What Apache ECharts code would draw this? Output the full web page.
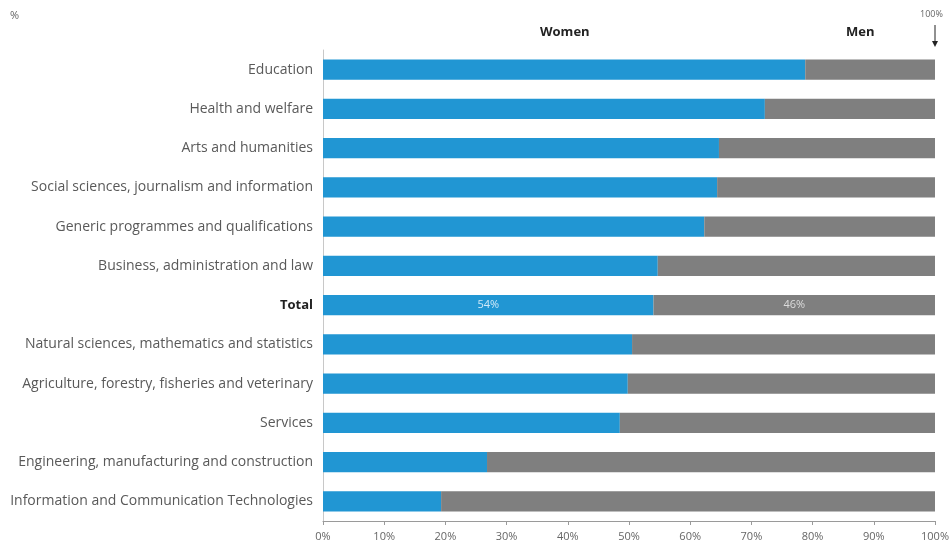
<!DOCTYPE html>
<html>
<head>
<meta charset="utf-8">
<script src="https://cdn.jsdelivr.net/npm/echarts@6/dist/echarts.min.js"></script>
<style>
  html, body { margin: 0; padding: 0; background: #fff; }
  #chart { width: 952px; height: 549px; }
</style>
</head>
<body>
<div id="chart"></div>
<script>
// fields of education, top to bottom
const fields = [
  'Education',
  'Health and welfare',
  'Arts and humanities',
  'Social sciences, journalism and information',
  'Generic programmes and qualifications',
  'Business, administration and law',
  'Total',
  'Natural sciences, mathematics and statistics',
  'Agriculture, forestry, fisheries and veterinary',
  'Services',
  'Engineering, manufacturing and construction',
  'Information and Communication Technologies'
]
// share of women (%)
const women = [78.8, 72.2, 64.7, 64.4, 62.3, 54.7, 54, 50.5, 49.8, 48.5, 26.8, 19.3]
// share of men (%)
const men = women.map(v => +(100 - v).toFixed(1))
const xTicks = [0, 10, 20, 30, 40, 50, 60, 70, 80, 90, 100]

const font = '"Open Sans", sans-serif'
const chart = echarts.init(document.getElementById('chart'))

// only the Total bar carries a value label
const withLabel = (arr) => arr.map((v, i) => fields[i] === 'Total'
  ? { value: v, label: { show: true } }
  : v)

const option = {
  animation: false,
  textStyle: { fontFamily: font },
  grid: { left: 323, right: 17, top: 50, bottom: 28 },
  xAxis: {
    type: 'value',
    min: 0,
    max: 100,
    interval: 10,
    splitLine: { show: false },
    axisLine: { show: true, lineStyle: { color: '#9a9a9a' } },
    axisTick: { show: true, length: 4, lineStyle: { color: '#9a9a9a' } },
    axisLabel: {
      color: '#666',
      fontSize: 11,
      margin: 10,
      formatter: (v) => xTicks.includes(v) ? v + '%' : ''
    }
  },
  yAxis: {
    type: 'category',
    data: fields,
    inverse: true,
    axisLine: { show: true, lineStyle: { color: '#c8c8c8' } },
    axisTick: { show: false },
    axisLabel: {
      color: '#595959',
      fontSize: 14,
      margin: 10,
      formatter: (v) => v === 'Total' ? '{b|' + v + '}' : v,
      rich: { b: { fontWeight: 'bold', color: '#222', fontSize: 13, fontFamily: font } }
    }
  },
  series: [
    {
      name: 'Women',
      type: 'bar',
      stack: 'all',
      barCategoryGap: '49%',
      itemStyle: { color: '#2196d3' },
      label: { show: false, position: 'inside', color: '#cfe9f8', fontSize: 11, formatter: '{c}%' },
      data: withLabel(women)
    },
    {
      name: 'Men',
      type: 'bar',
      stack: 'all',
      itemStyle: { color: '#7f7f7f' },
      label: { show: false, position: 'inside', color: '#dcdcdc', fontSize: 11, formatter: '{c}%' },
      data: withLabel(men)
    }
  ],
  graphic: [
    { type: 'text', left: 10, top: 10, style: { text: '%', fill: '#666', fontSize: 11, fontFamily: font } },
    { type: 'text', left: 540, top: 26, style: { text: 'Women', fill: '#222', fontSize: 13, fontWeight: 'bold', fontFamily: font } },
    { type: 'text', left: 846, top: 26, style: { text: 'Men', fill: '#222', fontSize: 13, fontWeight: 'bold', fontFamily: font } },
    { type: 'text', left: 920, top: 10, style: { text: '100%', fill: '#666', fontSize: 9, fontFamily: font } },
    { type: 'line', shape: { x1: 935, y1: 25, x2: 935, y2: 45 }, style: { stroke: '#222', lineWidth: 1 } },
    { type: 'polygon', shape: { points: [[932, 41], [938, 41], [935, 47]] }, style: { fill: '#222' } }
  ]
}

chart.setOption(option)
</script>
</body>
</html>
